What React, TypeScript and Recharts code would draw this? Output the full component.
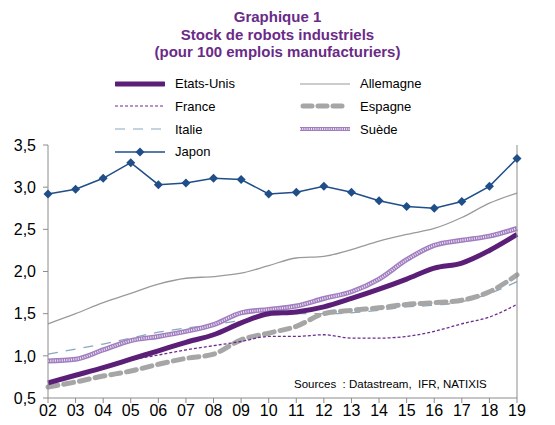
import { LineChart, Line, XAxis, YAxis } from 'recharts';

const years = ['02', '03', '04', '05', '06', '07', '08', '09', '10', '11', '12', '13', '14', '15', '16', '17', '18', '19'];
const etatsUnis = [0.68, 0.77, 0.86, 0.96, 1.06, 1.16, 1.25, 1.39, 1.5, 1.52, 1.58, 1.68, 1.79, 1.91, 2.04, 2.1, 2.25, 2.44];
const allemagne = [1.38, 1.5, 1.63, 1.74, 1.85, 1.92, 1.94, 1.98, 2.07, 2.16, 2.18, 2.26, 2.36, 2.44, 2.51, 2.64, 2.81, 2.93];
const france = [0.68, 0.77, 0.86, 0.95, 1.01, 1.07, 1.12, 1.17, 1.23, 1.23, 1.25, 1.21, 1.21, 1.23, 1.29, 1.38, 1.46, 1.61];
const espagne = [0.63, 0.69, 0.76, 0.82, 0.9, 0.97, 1.02, 1.19, 1.27, 1.35, 1.5, 1.54, 1.57, 1.61, 1.63, 1.66, 1.76, 1.96];
const italie = [1.02, 1.08, 1.14, 1.21, 1.28, 1.33, 1.37, 1.42, 1.48, 1.5, 1.5, 1.51, 1.54, 1.58, 1.6, 1.64, 1.74, 1.88];
const suede = [0.94, 0.96, 1.07, 1.18, 1.23, 1.29, 1.37, 1.51, 1.55, 1.59, 1.68, 1.76, 1.91, 2.14, 2.31, 2.37, 2.42, 2.51];
const japon = [2.92, 2.975, 3.105, 3.29, 3.03, 3.05, 3.105, 3.09, 2.92, 2.94, 3.01, 2.94, 2.84, 2.77, 2.75, 2.83, 3.01, 3.34];
const yTicks = [0.5, 1, 1.5, 2, 2.5, 3, 3.5];

const data = years.map((y, i) => ({
  year: y,
  etatsUnis: etatsUnis[i],
  allemagne: allemagne[i],
  france: france[i],
  espagne: espagne[i],
  italie: italie[i],
  suede: suede[i],
  japon: japon[i],
}));

const FONT = '"Liberation Sans", Arial, sans-serif';
const PURPLE = '#5c1f78';
const NAVY = '#1f4e89';
const fmt = (v: number) => v.toFixed(1).replace('.', ',');

const Diamond = (props: any) => {
  const { cx, cy } = props;
  if (cx == null || cy == null) return null;
  const r = 4.5;
  return <polygon points={`${cx},${cy - r} ${cx + r},${cy} ${cx},${cy + r} ${cx - r},${cy}`} fill={NAVY} />;
};

function LegendSample({ kind }: { kind: string }) {
  const w = 50;
  return (
    <svg width={w} height={12} style={{ display: 'block' }}>
      {kind === 'us' && <line x1={1} y1={6} x2={w - 1} y2={6} stroke={PURPLE} strokeWidth={5} strokeLinecap="round" />}
      {kind === 'de' && <line x1={0} y1={6} x2={w} y2={6} stroke="#9a9a9a" strokeWidth={1.2} />}
      {kind === 'fr' && <line x1={0} y1={6} x2={w} y2={6} stroke="#6b2c91" strokeWidth={1.2} strokeDasharray="3 2" />}
      {kind === 'es' && <line x1={3} y1={6} x2={w - 3} y2={6} stroke="#a6a6a6" strokeWidth={5} strokeDasharray="9 6" strokeLinecap="round" />}
      {kind === 'it' && <line x1={0} y1={6} x2={w} y2={6} stroke="#8ba7bd" strokeWidth={1.2} strokeDasharray="10 8" />}
      {kind === 'se' && (
        <>
          <line x1={0} y1={6} x2={w} y2={6} stroke="#a07ec0" strokeWidth={4} />
          <line x1={0} y1={6} x2={w} y2={6} stroke="#efe6f4" strokeWidth={2} strokeDasharray="1 1.2" />
        </>
      )}
      {kind === 'jp' && (
        <>
          <line x1={0} y1={6} x2={w} y2={6} stroke={NAVY} strokeWidth={1.5} />
          <polygon points={`25,1.5 29.5,6 25,10.5 20.5,6`} fill={NAVY} />
        </>
      )}
    </svg>
  );
}

const legendItems = [
  { name: 'Etats-Unis', kind: 'us', col: 0, row: 0 },
  { name: 'Allemagne', kind: 'de', col: 1, row: 0 },
  { name: 'France', kind: 'fr', col: 0, row: 1 },
  { name: 'Espagne', kind: 'es', col: 1, row: 1 },
  { name: 'Italie', kind: 'it', col: 0, row: 2 },
  { name: 'Suède', kind: 'se', col: 1, row: 2 },
  { name: 'Japon', kind: 'jp', col: 0, row: 3 },
];

export default function App() {
  return (
    <div style={{ position: 'absolute', left: 0, top: 0, width: 555, height: 425, background: '#fff', fontFamily: FONT }}>
      <div style={{ position: 'absolute', left: 0, top: 8, width: 555, textAlign: 'center', color: '#6a2a87', fontWeight: 'bold', fontSize: 15, lineHeight: '17.5px' }}>
        <div>Graphique 1</div>
        <div>Stock de robots industriels</div>
        <div>(pour 100 emplois manufacturiers)</div>
      </div>
      {legendItems.map((it) => (
        <div
          key={it.name}
          style={{
            position: 'absolute',
            left: it.col === 0 ? 115 : 300,
            top: 76 + it.row * 22.8,
            display: 'flex',
            alignItems: 'center',
            fontSize: 13,
            color: '#000',
          }}
        >
          <LegendSample kind={it.kind} />
          <span style={{ marginLeft: 10 }}>{it.name}</span>
        </div>
      ))}
      <div style={{ position: 'absolute', left: 294, top: 378, fontSize: 11.5, color: '#000' }}>
        Sources&nbsp; : Datastream,&nbsp; IFR, NATIXIS
      </div>
      <LineChart width={555} height={425} data={data} margin={{ top: 145, right: 0, left: 0, bottom: 0 }}>
        <XAxis
          dataKey="year"
          height={27}
          tickSize={5}
          tickMargin={2}
          stroke="#8c8c8c"
          tick={{ fill: '#000', fontSize: 16, fontFamily: FONT }}
          interval={0}
        />
        <YAxis
          yAxisId="left"
          width={48}
          domain={[0.5, 3.5]}
          ticks={yTicks}
          tickFormatter={fmt}
          tickSize={5}
          tickMargin={7}
          stroke="#8c8c8c"
          tick={{ fill: '#000', fontSize: 16, fontFamily: FONT }}
        />
        <YAxis
          yAxisId="right"
          orientation="right"
          width={38}
          domain={[0.5, 3.5]}
          ticks={yTicks}
          tickFormatter={fmt}
          tickSize={5}
          tickMargin={3}
          stroke="#8c8c8c"
          tick={{ fill: '#000', fontSize: 16, fontFamily: FONT }}
        />
        <Line yAxisId="left" dataKey="allemagne" type="monotone" stroke="#9a9a9a" strokeWidth={1.3} dot={false} isAnimationActive={false} />
        <Line yAxisId="left" dataKey="italie" type="monotone" stroke="#8ba7bd" strokeWidth={1.3} strokeDasharray="10 8" dot={false} isAnimationActive={false} />
        <Line yAxisId="left" dataKey="espagne" type="monotone" stroke="#a6a6a6" strokeWidth={5} strokeDasharray="10 6" strokeLinecap="round" dot={false} isAnimationActive={false} />
        <Line yAxisId="left" dataKey="france" type="monotone" stroke="#6b2c91" strokeWidth={1.3} strokeDasharray="3 2" dot={false} isAnimationActive={false} />
        <Line yAxisId="left" dataKey="suede" type="monotone" stroke="#a07ec0" strokeWidth={5} dot={false} isAnimationActive={false} />
        <Line yAxisId="left" dataKey="suede" type="monotone" stroke="#efe6f4" strokeWidth={2.2} strokeDasharray="1 1.3" dot={false} isAnimationActive={false} legendType="none" />
        <Line yAxisId="left" dataKey="etatsUnis" type="monotone" stroke={PURPLE} strokeWidth={5} dot={false} isAnimationActive={false} />
        <Line yAxisId="left" dataKey="japon" type="linear" stroke={NAVY} strokeWidth={1.5} dot={<Diamond />} activeDot={false} isAnimationActive={false} />
      </LineChart>
    </div>
  );
}
